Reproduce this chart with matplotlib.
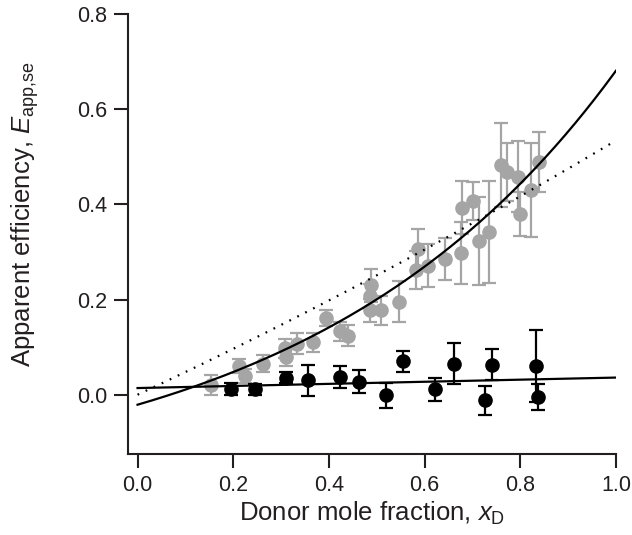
import matplotlib
matplotlib.use("Agg")
import matplotlib.pyplot as plt
import numpy as np

plt.rcParams["font.family"] = ["Liberation Sans", "DejaVu Sans"]
plt.rcParams["mathtext.fontset"] = "custom"
plt.rcParams["mathtext.rm"] = "Liberation Sans"
plt.rcParams["mathtext.it"] = "Liberation Sans:italic"

# gray series: donor fraction, apparent efficiency, error
gray_x = [0.154, 0.213, 0.225, 0.262, 0.308, 0.311, 0.333, 0.367, 0.395, 0.423,
          0.440, 0.485, 0.489, 0.487, 0.510, 0.547, 0.583, 0.586, 0.607, 0.642,
          0.677, 0.679, 0.702, 0.714, 0.735, 0.759, 0.773, 0.796, 0.799, 0.822,
          0.839]
gray_y = [0.020, 0.060, 0.040, 0.065, 0.098, 0.080, 0.107, 0.110, 0.161, 0.133,
          0.124, 0.207, 0.230, 0.177, 0.177, 0.195, 0.262, 0.307, 0.271, 0.285,
          0.297, 0.393, 0.407, 0.323, 0.342, 0.482, 0.468, 0.458, 0.379, 0.430,
          0.489]
gray_err = [0.021, 0.015, 0.015, 0.018, 0.020, 0.020, 0.022, 0.020, 0.016, 0.020,
            0.022, 0.025, 0.035, 0.025, 0.030, 0.043, 0.040, 0.042, 0.045, 0.044,
            0.065, 0.055, 0.040, 0.092, 0.108, 0.088, 0.060, 0.074, 0.046, 0.098,
            0.063]

# black series
black_x = [0.196, 0.245, 0.310, 0.356, 0.423, 0.463, 0.520, 0.555, 0.621, 0.661,
           0.726, 0.741, 0.832, 0.838]
black_y = [0.012, 0.011, 0.036, 0.030, 0.037, 0.027, -0.001, 0.070, 0.011, 0.065,
           -0.012, 0.063, 0.060, -0.005]
black_err = [0.012, 0.012, 0.012, 0.033, 0.023, 0.024, 0.026, 0.022, 0.025, 0.043,
             0.030, 0.033, 0.076, 0.028]

# fitted model parameters
exp_amp, exp_rate, exp_off = 0.189, 1.55, -0.021     # solid curve, gray data
quad_lin, quad_sq = 0.469, 0.065                      # dotted curve
lin_icpt, lin_slope = 0.014, 0.022                    # solid line, black data

gray_col = "#a5a5a5"
ink = "#231f20"

fig = plt.figure(figsize=(6.32, 5.35), dpi=100)
ax = fig.add_axes([0.2025, 0.151, 0.772, 0.823])

ax.errorbar(gray_x, gray_y, yerr=gray_err, fmt="o", color=gray_col, ms=9.5,
            elinewidth=1.6, capsize=5, capthick=1.6, zorder=2)

xx = np.linspace(0, 1, 200)
ax.plot(xx, exp_amp * (np.exp(exp_rate * xx) - 1) + exp_off, color="black", lw=1.6, zorder=3)
ax.plot(xx, quad_lin * xx + quad_sq * xx ** 2, color="black", lw=1.6, ls=(0, (0.8, 3.2)), zorder=3)
ax.plot(xx, lin_icpt + lin_slope * xx, color="black", lw=1.6, zorder=3)

ax.errorbar(black_x, black_y, yerr=black_err, fmt="o", color="black", ms=9.5,
            elinewidth=1.6, capsize=5, capthick=1.6, zorder=4)

ax.set_xlim(-0.02, 1.0)
ax.set_ylim(-0.125, 0.8)
ax.set_xticks([0.0, 0.2, 0.4, 0.6, 0.8, 1.0])
ax.set_yticks([0.0, 0.2, 0.4, 0.6, 0.8])
ax.set_xticklabels(["0.0", "0.2", "0.4", "0.6", "0.8", "1.0"])
ax.set_yticklabels(["0.0", "0.2", "0.4", "0.6", "0.8"])

for side in ["top", "right"]:
    ax.spines[side].set_visible(False)
for side in ["left", "bottom"]:
    ax.spines[side].set_linewidth(1.5)
    ax.spines[side].set_color(ink)
ax.tick_params(direction="out", length=10, width=1.5, color=ink,
               labelsize=15.5, labelcolor=ink, pad=5)

ax.set_xlabel("Donor mole fraction, $x_{\\mathrm{D}}$", fontsize=18.5, color=ink, labelpad=3)
ax.set_ylabel("Apparent efficiency, $E_{\\mathrm{app{,}se}}$", fontsize=18.5, color=ink)
ax.yaxis.set_label_coords(-0.178, 0.545)

fig.savefig("out.png", dpi=100)
